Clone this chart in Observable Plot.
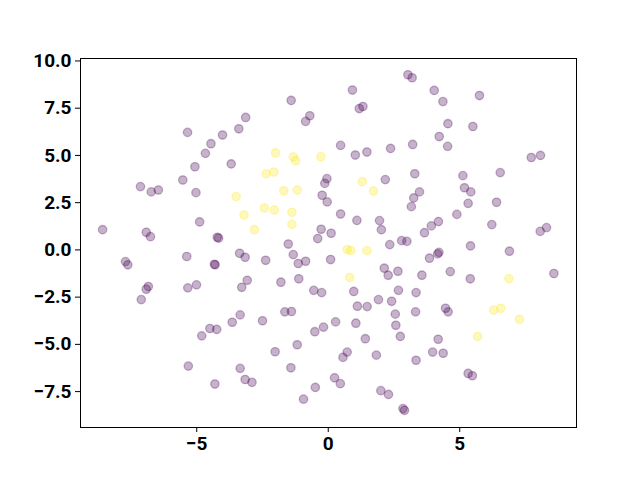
<!DOCTYPE html>
<html>
<head>
<meta charset="utf-8">
<script src="https://cdn.jsdelivr.net/npm/d3@7"></script>
<script src="https://cdn.jsdelivr.net/npm/@observablehq/plot@0.6"></script>
<style>
  html, body { margin: 0; padding: 0; background: #fff; }
</style>
</head>
<body>
<div id="chart"></div>
<script>
// Class 0 (purple) points
const purpleX = [-3.14,-3.40,-5.35,-4.02,-4.46,-4.67,-5.07,-3.69,-5.53,-7.14,-6.73,-6.46,-5.03,-4.89,-8.58,-6.92,-6.76,-4.22,-4.17,
  3.03,3.19,0.92,-1.41,1.18,1.32,-0.70,-0.86,0.47,1.03,1.47,2.37,3.21,-0.05,-0.13,2.17,3.29,-0.23,-0.04,3.25,3.16,3.47,0.47,1.09,1.95,2.02,-0.27,0.11,-0.40,-1.52,2.34,2.79,2.99,
  4.03,4.36,5.75,4.55,5.50,4.22,4.54,7.72,8.07,5.12,6.54,5.18,5.42,5.32,6.40,4.89,6.22,3.92,4.19,3.66,8.06,8.30,5.41,
  -7.71,-7.62,-5.38,-4.33,-4.30,-3.37,-3.16,-6.84,-6.92,-7.11,-5.34,-5.01,-3.08,-3.29,-3.35,-3.65,-4.50,-4.24,-4.81,-5.32,-3.35,-3.16,-2.90,-4.31,
  -2.38,-1.33,-1.14,-0.86,0.09,2.13,2.28,2.65,-1.80,-1.12,-0.55,-0.25,0.97,2.67,3.34,1.91,2.41,1.11,1.48,-1.65,-1.40,2.55,3.32,-2.50,0.28,1.05,-0.18,-0.51,2.57,2.74,1.41,-1.18,-2.02,0.72,0.56,1.83,-1.42,3.34,0.24,0.46,-0.49,2.00,2.29,-0.94,2.84,2.90,
  6.89,4.16,4.21,3.85,3.56,4.64,5.40,8.58,4.46,4.56,4.18,3.97,4.37,5.32,5.48];
const purpleY = [7.01,6.41,6.22,6.08,5.62,5.11,4.40,4.55,3.70,3.35,3.07,3.17,3.03,1.48,1.07,0.93,0.70,0.67,0.62,
  9.27,9.11,8.46,7.91,7.48,7.59,7.10,6.80,5.53,5.02,5.18,5.37,5.58,3.77,3.52,3.72,4.03,2.89,2.54,2.75,2.29,3.07,1.90,1.56,1.55,1.07,1.09,0.88,0.60,0.31,0.28,0.49,0.45,
  8.44,7.85,8.17,6.68,6.53,6.00,5.48,4.89,5.00,3.93,4.09,3.29,3.07,2.46,2.52,1.88,1.34,1.27,1.50,0.91,0.98,1.18,0.21,
  -0.62,-0.79,-0.35,-0.76,-0.79,-0.18,-0.39,-1.94,-2.08,-2.63,-2.01,-1.85,-1.61,-1.98,-3.44,-3.83,-4.16,-4.21,-4.55,-6.15,-6.27,-6.86,-7.01,-7.10,
  -0.55,-0.25,-0.72,-0.60,-0.51,-0.97,-1.34,-1.13,-1.71,-1.53,-2.14,-2.26,-2.20,-2.14,-2.26,-2.63,-2.72,-2.98,-3.00,-3.28,-3.26,-3.40,-3.28,-3.75,-3.81,-3.88,-4.09,-4.33,-3.99,-4.58,-4.70,-5.02,-5.39,-5.41,-5.69,-5.57,-6.24,-5.84,-6.77,-7.08,-7.28,-7.45,-7.65,-7.90,-8.40,-8.49,
  -0.07,-0.21,-0.13,-0.44,-1.34,-1.15,-1.53,-1.25,-3.09,-3.28,-4.73,-5.41,-5.47,-6.54,-6.66];
// Class 1 (yellow) points
const yellowX = [-3.50,-3.20,-2.00,-1.33,-1.24,-0.28,-2.36,-2.07,1.29,1.72,-1.69,-1.18,-2.43,-2.05,-1.38,-1.38,-2.81,0.72,0.86,1.47,0.82,6.87,6.29,6.56,7.27,5.68];
const yellowY = [2.82,1.85,5.13,4.92,4.72,4.93,4.03,4.12,3.61,3.12,3.13,3.17,2.22,2.11,1.99,1.35,1.07,0.02,-0.04,-0.04,-1.46,-1.52,-3.19,-3.09,-3.67,-4.58];

const xTicks = [-5, 0, 5];
const yTicks = [-7.5, -5, -2.5, 0, 2.5, 5, 7.5, 10];

const purple = purpleX.map((x, i) => ({x, y: purpleY[i]}));
const yellow = yellowX.map((x, i) => ({x, y: yellowY[i]}));

const chart = Plot.plot({
  width: 640,
  height: 480,
  marginLeft: 80,
  marginRight: 64,
  marginTop: 58,
  marginBottom: 53,
  style: {fontFamily: "Roboto", fontSize: "19px", fontWeight: "bold", background: "#fff", color: "#000"},
  x: {domain: [-9.42, 9.44]},
  y: {domain: [-9.40, 10.13]},
  marks: [
    Plot.frame({stroke: "#000", strokeWidth: 1}),
    Plot.axisX({ticks: xTicks, tickSize: 5, tickPadding: 4, label: null, tickFormat: d3.format("d")}),
    Plot.axisY({ticks: yTicks, tickSize: 5, tickPadding: 4, label: null, tickFormat: d3.format(".1f")}),
    Plot.dot(purple, {x: "x", y: "y", r: 4.2, fill: "#440154", stroke: "#440154", fillOpacity: 0.3, strokeOpacity: 0.3, strokeWidth: 1.3}),
    Plot.dot(yellow, {x: "x", y: "y", r: 4.2, fill: "#fde725", stroke: "#fde725", fillOpacity: 0.3, strokeOpacity: 0.3, strokeWidth: 1.3})
  ]
});
document.getElementById("chart").appendChild(chart);
</script>
</body>
</html>
